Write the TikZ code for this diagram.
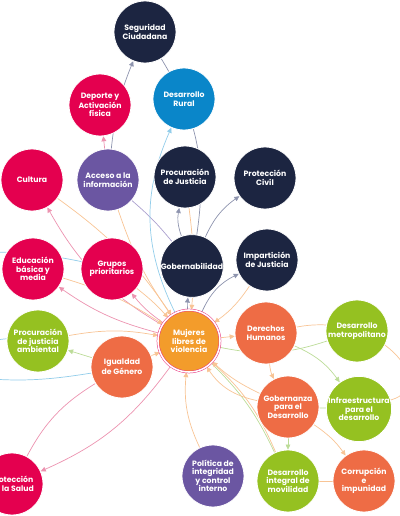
\documentclass[tikz,border=0pt]{standalone}
\usepackage{fontspec}
\setmainfont{Poppins}
\usepackage{xcolor}
\usepackage{tikz}
\usetikzlibrary{arrows.meta,backgrounds}
\definecolor{navy}{HTML}{1C2541}
\definecolor{crim}{HTML}{E4004F}
\definecolor{azul}{HTML}{0A86C9}
\definecolor{morado}{HTML}{6B56A2}
\definecolor{naranja}{HTML}{F39C2B}
\definecolor{coral}{HTML}{EE6C45}
\definecolor{verde}{HTML}{95C121}
\definecolor{anillo}{HTML}{E8347E}
\definecolor{cNv}{HTML}{8E94AE}
\definecolor{cPk}{HTML}{EC93B0}
\definecolor{cBl}{HTML}{92CDEA}
\definecolor{cOr}{HTML}{F8C495}
\definecolor{cGr}{HTML}{BCDC98}
\definecolor{cPu}{HTML}{ABA0CE}
\tikzset{
  bub/.style={circle, draw=white, line width=0.6pt, minimum size=1.55cm, inner sep=0pt,
    align=center, text=white, font=\fontsize{5.5}{6}\selectfont\bfseries},
  nv/.style={bub, fill=navy},
  rj/.style={bub, fill=crim},
  az/.style={bub, fill=azul},
  mo/.style={bub, fill=morado},
  co/.style={bub, fill=coral},
  vd/.style={bub, fill=verde},
  hub/.style={bub, fill=naranja, draw=anillo, double=white, double distance=1.1pt, line width=0.35pt},
  lnk/.style={line width=0.5pt, -{Triangle[length=3.6pt,width=3.4pt]}},
  ln/.style={line width=0.5pt},
  every picture/.style={line cap=round, line join=round}
}

\begin{document}
\begin{tikzpicture}[x=0.025cm, y=0.025cm]
  \useasboundingbox (0,0) rectangle (400,516);

  \node[nv] (seg) at (145,484) {Seguridad\\Ciudadana};
  \node[rj] (deporte) at (100,411) {Deporte y\\Activación\\física};
  \node[az] (rural) at (184,417) {Desarrollo\\Rural};
  \node[rj] (cultura) at (32,336) {Cultura};
  \node[mo] (acceso) at (108,336) {Acceso a la\\información};
  \node[nv] (procj) at (185,339) {Procuración\\de Justicia};
  \node[nv] (protc) at (265,338) {Protección\\Civil};
  \node[rj] (educ) at (33,247) {Educación\\básica y\\media};
  \node[rj] (grupos) at (112,247) {Grupos\\prioritarios};
  \node[nv] (gob) at (192,250) {Gobernabilidad};
  \node[nv] (impart) at (267,256) {Impartición\\de Justicia};
  \node[hub] (muj) at (189,175) {Mujeres\\libres de\\violencia};
  \node[co] (derechos) at (266,183) {Derechos\\Humanos};
  \node[vd] (metro) at (357,185) {Desarrollo\\metropolitano};
  \node[vd] (ambiental) at (38,175) {Procuración\\de justicia\\ambiental};
  \node[co] (igualdad) at (122,149) {Igualdad\\de Género};
  \node[co] (gobdes) at (288,109) {Gobernanza\\para el\\Desarrollo};
  \node[vd] (infra) at (359,107) {Infraestructura\\para el\\desarrollo};
  \node[rj] (salud) at (12,32) {Protección\\de la Salud};
  \node[mo] (politica) at (213,40) {Política de\\integridad\\y control\\interno};
  \node[vd] (movil) at (288,35) {Desarrollo\\integral de\\movilidad};
  \node[co] (corrup) at (364,35) {Corrupción\\e\\impunidad};

  % ends that leave the page
  \coordinate (wA) at (-40,262);
  \coordinate (wB) at (-40,160);
  \coordinate (wC) at (-40,140);

  \begin{scope}[on background layer]
    % navy links
    \draw[lnk, cNv] (acceso) to[bend left=8] (seg);
    \draw[ln, cNv] (seg) to[bend left=20] (gob);
    \draw[lnk, cNv] (gob) to[bend left=15] (procj);
    \draw[lnk, cNv] (gob) to[bend left=15] (protc);
    \draw[lnk, cNv] (muj) to[bend left=20] (impart);
    \draw[lnk, cNv] (muj) to[bend left=5] (gob);
    \draw[ln, cPu] (acceso) to[bend left=5] (gob);
    % blue links
    \draw[lnk, cBl] (muj) to[bend left=25] (rural);
    \draw[ln, cBl] (wA) to[bend left=8] (grupos);
    \draw[ln, cBl] (wB) to[bend left=15] (ambiental);
    \draw[ln, cBl] (wC) to[bend right=8] (igualdad);
    % pink links
    \draw[lnk, cPk] (acceso) -- (deporte);
    \draw[lnk, cPk] (muj) to[bend left=15] (cultura);
    \draw[lnk, cPk] (muj) to[bend left=10] (educ);
    \draw[lnk, cPk] (muj) to[bend left=8] (grupos);
    \draw[lnk, cPk] (muj) to[bend left=15] (salud);
    \draw[ln, cPk] (igualdad) to[bend right=15] (salud);
    % orange links
    \draw[lnk, cOr] (muj) -- (derechos);
    \draw[lnk, cOr] (derechos) to[bend right=10] (gobdes);
    \draw[lnk, cOr] (gobdes) to[bend left=10] (corrup);
    \draw[ln, cOr] (movil) -- (corrup);
    \draw[ln, cOr] (derechos) .. controls (380,205) and (440,130) .. (infra);
    % green links
    \draw[lnk, cGr] (igualdad) -- (ambiental);
    \draw[lnk, cGr] (derechos) to[bend left=15] (infra);
    \draw[lnk, cGr] (gobdes) -- (movil);
    \draw[ln, cGr] (gobdes) -- (infra);
    \draw[ln, cGr] (metro) to[bend left=15] (muj);
    \draw[ln, cGr] (muj) to[bend left=10] (movil);
    % into Mujeres
    \foreach \src/\bd in {cultura/10, educ/8, grupos/5, acceso/-8, procj/6, ambiental/10,
        igualdad/0, politica/15, gobdes/8, gobdes/22, movil/-12, impart/10}
      \draw[lnk, cOr] (\src) to[bend left=\bd] (muj);
  \end{scope}
\end{tikzpicture}
\end{document}
